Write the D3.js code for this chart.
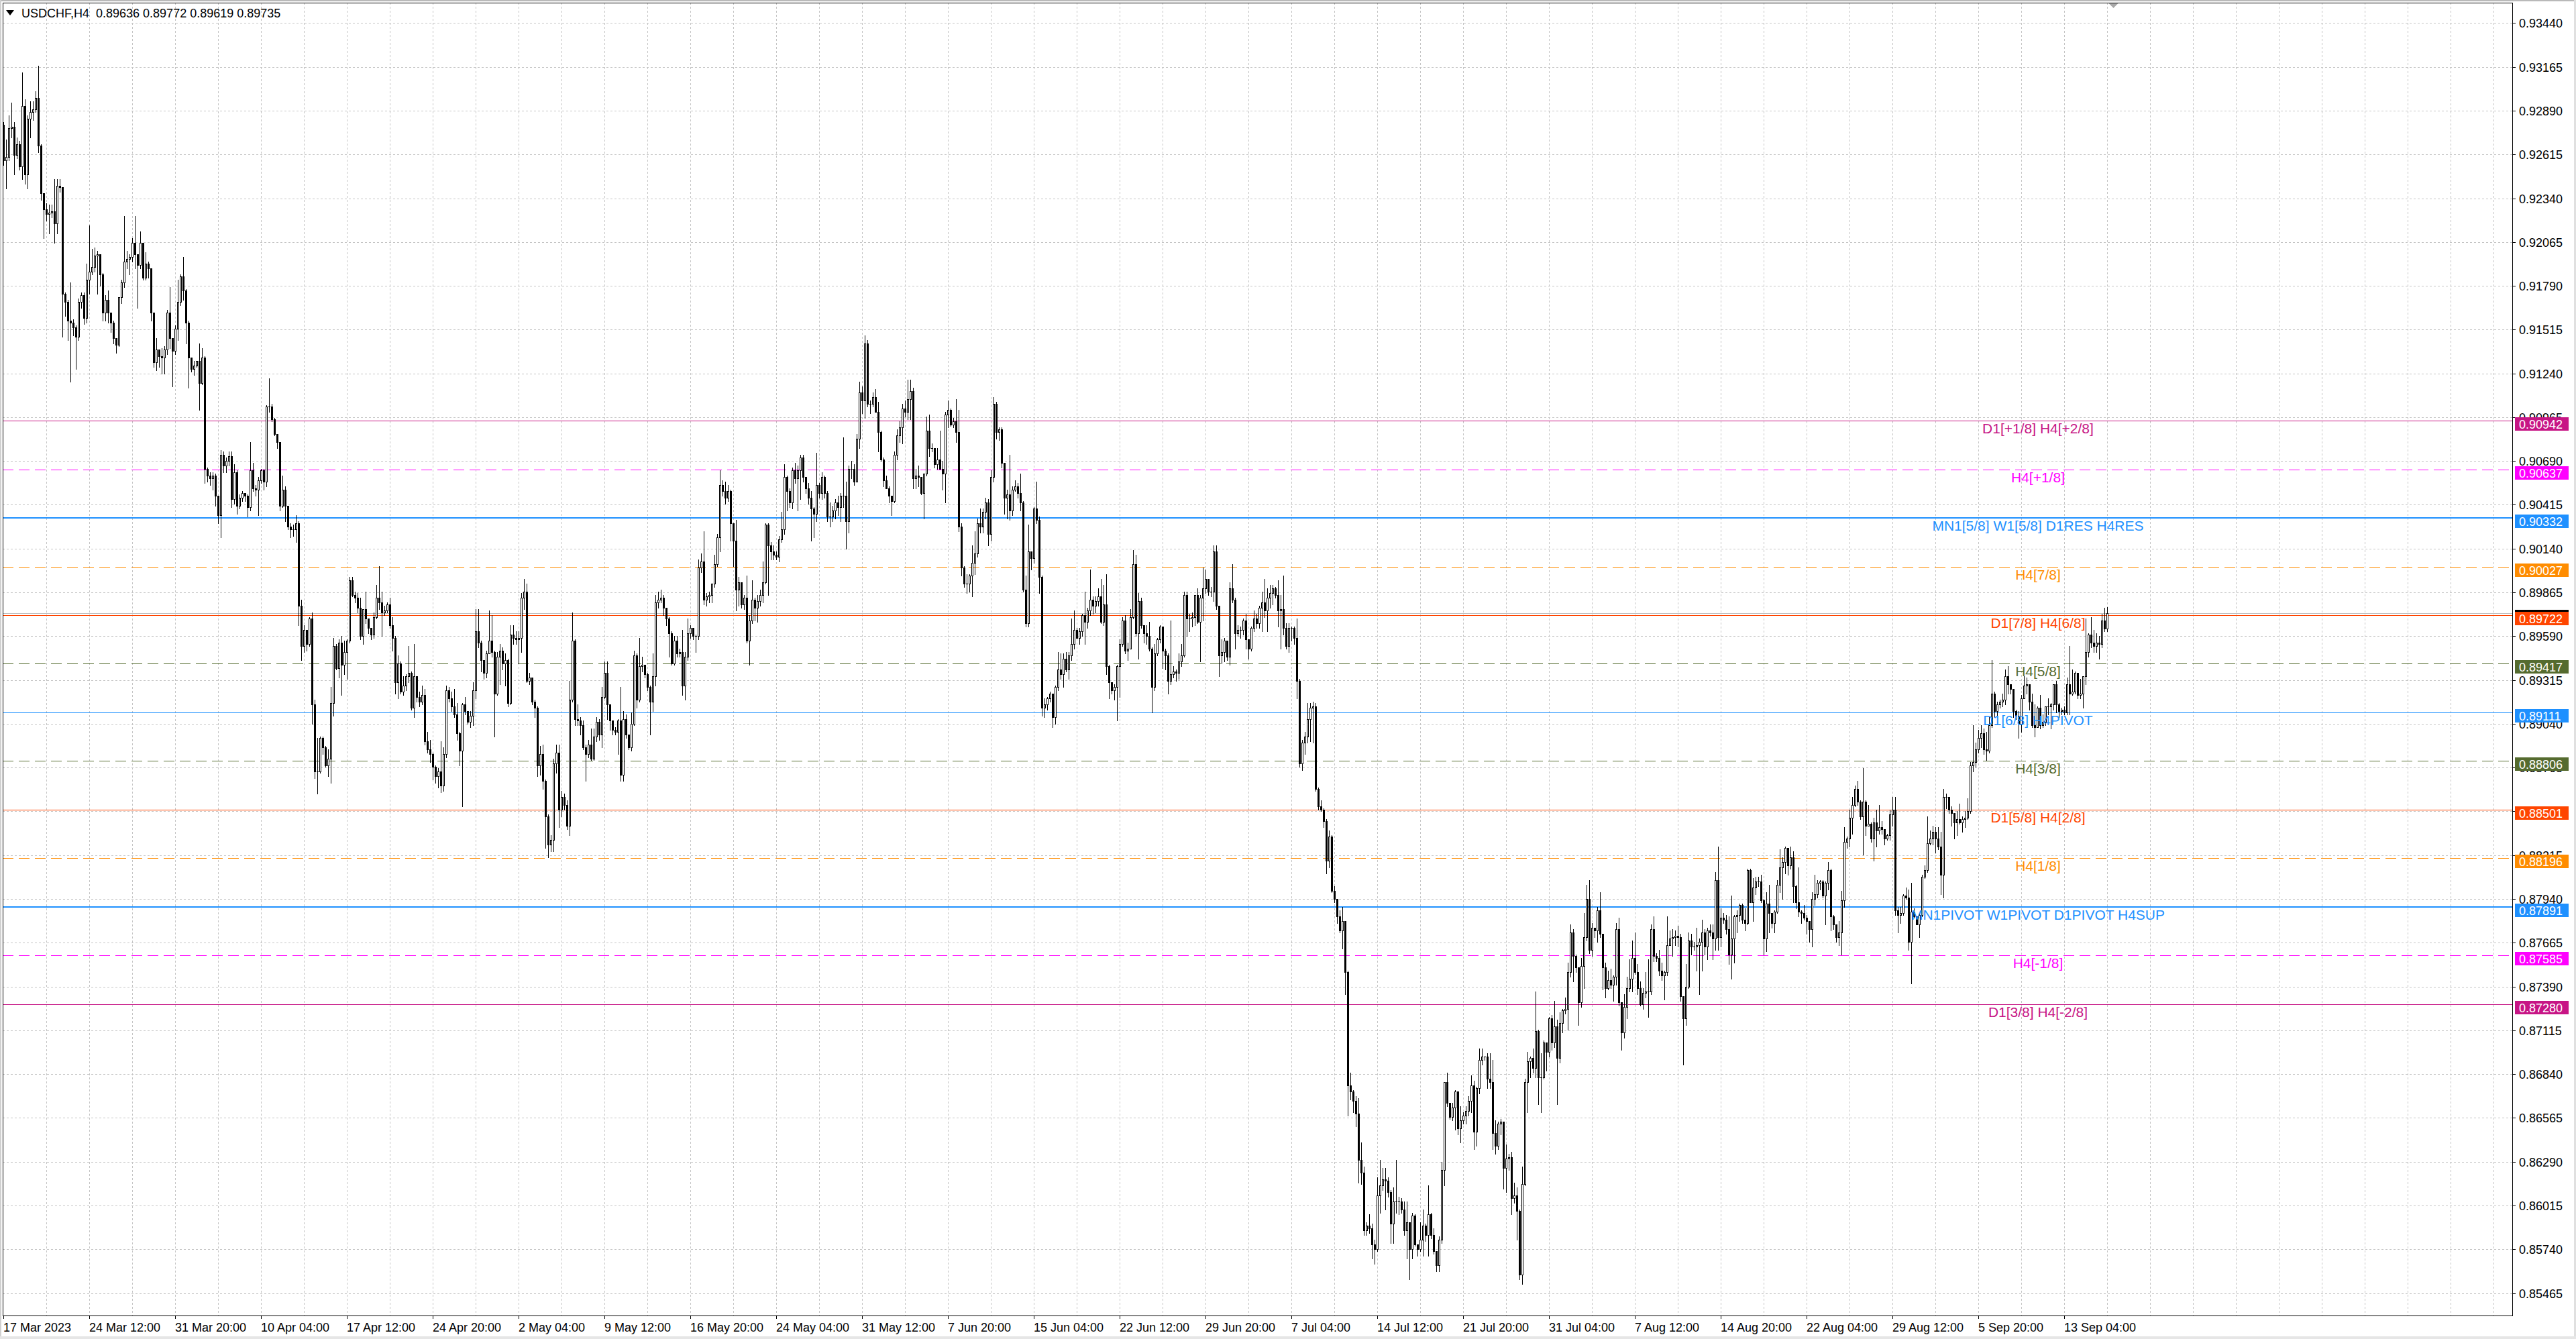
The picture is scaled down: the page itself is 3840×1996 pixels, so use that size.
<!DOCTYPE html>
<html><head><meta charset="utf-8">
<script src="https://cdn.jsdelivr.net/npm/d3@7/dist/d3.min.js"></script>
<style>html,body{margin:0;padding:0;background:#fff;overflow:hidden}</style>
</head><body>
<svg id="chart" width="3840" height="1996" xmlns="http://www.w3.org/2000/svg"></svg>
<script>
// ---------------- DATA ----------------
const symbol = "USDCHF";
const timeframe = "H4";
const firstBarTime = "2023-03-17T04:00:00Z";
// prices are stored in pips above 0.8500 (1 pip = 0.0001)
const pipBase = 0.85;
const pipSize = 0.0001;
const firstOpen = 780;

const closes = [
758,760,778,779,761,768,754,792,749,784,
788,790,797,767,737,727,724,725,726,718,
742,741,674,669,657,656,653,647,669,673,
659,683,688,691,698,699,686,662,670,662,
656,646,642,672,681,694,696,697,706,699,
692,706,684,693,690,662,631,639,635,634,
639,662,646,638,652,669,685,676,656,634,
627,629,632,618,634,564,560,558,560,547,
535,573,566,569,572,545,562,541,546,549,
547,540,563,552,551,557,563,556,603,603,
595,586,581,541,551,541,528,526,526,530,
478,453,463,454,470,416,374,374,395,389,
378,382,417,453,439,455,441,449,456,494,
485,483,477,459,476,470,464,460,471,483,
480,474,475,479,466,458,430,442,424,428,
434,436,414,434,421,418,422,393,388,385,
377,371,374,365,385,425,420,415,410,398,
387,416,412,405,409,425,462,455,444,436,
448,456,449,423,446,450,442,444,417,460,
458,457,458,483,487,431,433,418,414,378,
385,368,346,328,331,379,386,350,358,353,
340,419,456,407,406,403,389,385,391,382,
396,405,397,421,436,416,406,400,399,406,
372,407,397,389,404,447,419,440,441,435,
427,418,434,480,482,483,477,470,461,442,
456,448,449,428,446,461,464,459,459,502,
506,482,484,485,492,504,521,554,550,546,
550,530,519,488,493,479,483,456,469,482,
477,481,485,493,529,516,512,510,509,520,
526,559,550,543,563,558,563,571,559,552,
546,539,536,554,549,559,549,534,534,538,
543,540,547,547,531,564,564,556,583,612,
607,643,605,605,609,600,587,570,557,552,
547,544,573,585,590,602,600,608,613,558,
560,559,549,561,588,577,577,567,570,564,
561,598,601,592,594,587,528,502,492,492,
497,505,511,530,528,537,543,523,559,605,
587,589,568,546,548,538,551,553,549,543,
488,467,512,508,539,532,496,414,416,420,
423,408,427,438,435,445,438,447,454,463,
458,462,472,468,475,482,478,481,484,468,
479,440,430,425,427,440,454,469,450,451,
471,504,461,481,466,461,459,451,427,448,
457,465,450,447,431,435,437,436,443,447,
485,470,470,471,485,468,483,489,495,487,
487,512,478,447,449,456,446,489,482,461,
463,463,469,457,451,464,470,467,477,480,
475,483,486,489,485,475,476,464,453,464,
464,458,431,379,392,396,407,414,415,363,
352,350,343,318,333,299,294,283,274,280,
248,177,173,167,159,130,122,86,89,87,
77,74,108,114,118,117,110,90,104,104,
104,99,86,91,74,95,77,74,80,89,
83,96,83,73,64,80,124,179,166,157,
163,173,150,155,158,161,167,177,148,175,
193,195,195,181,179,147,139,153,154,125,
131,132,106,108,98,58,115,179,192,194,
188,211,182,182,204,198,219,204,214,194,
216,224,225,248,273,258,251,229,252,270,
294,262,276,274,287,272,251,238,243,240,
245,275,229,210,226,238,244,257,248,238,
228,235,236,236,275,258,257,249,246,248,
265,269,270,271,270,233,219,239,268,264,
264,265,267,273,264,274,273,269,306,270,
282,281,275,259,269,283,284,290,281,279,
312,292,301,305,305,293,269,291,285,279,
286,303,314,317,326,315,320,302,292,286,
285,282,280,275,294,297,304,305,296,304,
312,283,278,270,273,293,330,332,345,353,
363,355,346,355,340,341,332,342,337,339,
338,332,334,347,350,287,284,285,296,295,
267,286,283,278,284,308,312,329,332,336,
332,327,309,358,358,350,348,342,344,342,
344,345,349,378,380,388,395,398,388,387,
403,423,412,416,418,419,434,429,426,412,
409,404,420,428,429,418,403,402,414,403,
405,415,415,416,429,416,412,413,411,429,
423,424,436,422,423,434,449,460,455,453,
455,454,469,463.6,473.5];

const highs = [
782,771,786,794,782,772,770,813,796,786,
795,795,801,817,768,737,731,730,730,746,
746,746,718,675,670,681,658,654,671,675,
675,693,717,702,703,701,699,687,673,676,
662,657,646,672,683,723,701,699,709,723,
699,713,706,700,694,690,662,646,639,640,
641,664,678,646,654,683,686,697,677,657,
634,632,632,643,640,635,565,562,562,561,
547,576,575,571,575,575,567,563,548,550,
549,548,581,568,554,559,564,564,604,621,
605,596,586,581,560,553,541,530,529,535,
531,482,466,460,471,474,419,395,396,396,
390,388,427,458,454,457,459,456,457,496,
496,487,486,483,476,487,470,463,474,491,
503,487,478,480,483,471,459,447,443,434,
435,453,437,454,434,424,428,426,399,394,
386,378,376,393,389,428,427,424,426,417,
399,417,421,411,412,430,476,476,456,440,
450,475,472,450,449,454,452,448,445,466,
466,462,462,486,495,492,436,433,419,415,
390,391,369,347,334,382,391,391,362,360,
356,431,474,457,416,408,406,391,394,401,
401,408,407,427,443,443,416,405,402,407,
427,412,410,394,411,450,448,458,446,441,
436,428,448,485,487,488,485,477,471,462,
459,459,451,463,449,470,466,462,460,507,
511,525,486,487,492,510,523,563,557,556,
554,551,530,532,496,489,485,497,472,494,
483,485,488,506,530,530,518,516,512,522,
537,567,560,552,565,568,566,573,573,557,
555,550,540,574,555,562,560,550,543,541,
545,547,549,584,556,566,569,567,586,619,
616,648,645,607,612,614,606,588,571,560,
553,547,575,589,594,605,607,620,620,615,
564,566,559,561,597,598,580,573,577,588,
569,600,607,602,596,608,601,530,503,498,
498,516,525,533,539,539,546,545,563,609,
606,590,590,564,551,573,553,557,555,561,
544,497,529,510,540,556,534,497,420,421,
424,423,428,449,448,448,449,449,470,475,
464,464,473,487,477,501,484,484,489,495,
491,498,441,430,429,441,457,471,472,455,
476,513,510,486,483,465,466,468,452,454,
458,466,465,451,448,469,440,438,448,454,
487,487,473,474,485,489,485,502,501,495,
490,516,516,478,457,458,456,493,504,483,
466,465,470,473,457,465,475,473,478,487,
495,489,491,491,490,494,485,497,467,467,
465,465,470,432,394,399,417,417,418,417,
364,356,351,344,337,334,302,294,287,289,
280,249,185,174,170,169,141,126,91,96,
90,80,119,130,125,125,119,111,113,130,
107,106,104,104,91,97,96,77,91,99,
90,114,97,87,73,82,129,179,185,165,
166,174,169,164,160,164,170,183,180,176,
200,200,195,197,197,193,155,154,156,153,
140,134,135,116,113,99,126,181,198,195,
200,236,212,197,205,201,220,221,230,218,
223,225,232,254,278,275,259,248,257,285,
303,306,279,276,289,298,272,254,249,250,
246,279,282,229,234,245,256,268,273,253,
242,238,248,256,278,283,260,262,254,249,
283,274,275,274,277,272,229,253,273,272,
267,276,269,281,275,276,278,278,311,327,
288,285,284,283,296,284,287,291,291,288,
313,313,307,308,308,309,294,298,303,282,
287,306,325,320,327,322,327,324,303,314,
287,290,284,279,298,309,306,306,306,305,
317,313,284,278,280,299,339,333,350,358,
365,368,356,376,356,353,342,345,350,353,
343,338,335,350,358,358,289,289,297,301,
300,304,288,283,285,309,315,346,337,340,
339,339,336,363,360,356,352,348,349,354,
346,349,357,380,403,392,400,403,401,399,
408,444,424,418,419,423,438,440,429,425,
413,412,422,434,433,426,423,416,415,422,
410,415,420,417,429,431,417,414,415,433,
453,438,437,435,432,434,470,461,471,463,
461,459,473,477,477.2];

const lows = [
755,740,758,772,749,759,752,746,743,740,
772,783,788,763,733,709,720,712,722,706,
712,738,647,660,645,619,648,627,645,665,
655,656,674,686,688,674,679,657,657,656,
650,643,637,641,668,678,690,686,694,690,
665,690,683,683,684,657,628,626,628,624,
624,636,640,616,636,645,667,670,643,615,
625,623,628,601,617,555,556,554,551,541,
530,521,562,562,566,540,542,536,539,544,
544,534,538,550,547,535,555,551,553,600,
594,585,577,538,540,531,526,521,522,518,
466,444,449,450,453,404,370,360,373,385,
377,371,367,409,438,433,422,435,432,455,
484,480,474,457,454,467,461,457,458,470,
476,459,472,474,464,450,423,420,423,422,
425,430,413,408,418,415,416,391,386,380,
369,367,364,361,362,383,418,412,408,394,
378,352,410,404,402,403,420,452,437,432,
433,448,446,396,422,429,438,428,415,416,
454,454,442,449,476,430,429,416,408,371,
372,363,326,320,324,324,373,339,346,350,
338,334,418,403,403,397,388,368,383,381,
381,393,394,389,420,407,400,397,397,385,
368,368,395,388,387,403,414,418,437,433,
425,397,412,428,477,480,472,466,446,441,
441,446,446,422,419,444,458,457,449,457,
499,479,478,480,480,490,503,512,547,542,
544,519,503,475,478,477,476,455,441,467,
469,468,478,480,492,485,507,507,507,506,
518,523,538,540,539,555,538,545,556,549,
542,519,521,531,546,545,546,531,528,531,
533,535,531,540,514,524,558,554,556,577,
599,596,603,599,603,600,575,569,553,552,
543,535,543,570,581,580,597,595,595,552,
552,553,548,533,560,572,575,565,564,564,
551,543,590,591,590,581,525,497,490,486,
487,484,498,509,524,524,533,516,519,556,
583,582,565,536,533,532,535,550,546,538,
487,465,465,501,505,530,486,409,408,413,
418,402,404,425,432,427,437,432,444,451,
458,454,459,454,464,472,473,474,478,467,
466,435,420,423,419,406,421,453,448,444,
451,470,459,445,464,455,454,450,411,425,
447,455,439,438,423,429,433,431,432,440,
446,459,462,465,466,467,443,469,486,485,
484,481,476,434,442,443,444,441,480,451,
459,458,460,451,445,450,462,464,464,462,
471,462,477,479,483,465,451,460,451,449,
456,454,420,377,375,385,392,393,392,362,
350,349,339,310,314,298,292,279,273,263,
234,158,168,160,151,116,115,83,83,84,
68,65,73,97,111,99,107,78,78,97,
96,97,83,68,55,68,76,70,73,70,
79,70,81,71,60,60,78,114,164,156,
155,149,146,141,153,153,158,160,137,139,
172,190,193,175,175,137,134,137,146,112,
110,124,96,103,80,55,52,114,160,182,
185,182,165,160,181,186,195,199,201,165,
191,210,222,212,245,242,248,215,226,238,
268,260,258,270,267,270,237,232,237,238,
230,240,227,199,207,219,236,236,247,234,
227,225,232,220,234,255,255,246,243,231,
246,265,258,265,264,230,190,215,238,259,
262,249,234,249,259,256,271,256,262,262,
264,279,272,253,244,254,273,280,279,274,
278,292,280,297,302,292,259,261,273,276,
273,285,298,294,310,309,313,292,288,283,
279,281,272,267,264,290,295,300,295,278,
300,274,275,267,265,259,289,326,327,335,
352,353,344,322,334,340,330,318,327,335,
335,328,331,331,340,284,273,279,284,294,
262,241,282,278,270,283,307,311,328,328,
323,325,297,295,351,348,340,332,334,341,
336,339,344,348,374,377,386,389,385,381,
386,402,408,408,414,415,416,423,423,408,
407,395,399,420,423,413,402,396,402,401,
402,403,410,401,413,411,408,410,410,410,
410,422,423,420,420,414,429,446,452,449,
449,445,452,462,461.9];

const priceTickLabels = ["0.93440","0.93165","0.92890","0.92615","0.92340","0.92065","0.91790","0.91515","0.91240","0.90965",
  "0.90690","0.90415","0.90140","0.89865","0.89590","0.89315","0.89040","0.88765","0.88490","0.88215",
  "0.87940","0.87665","0.87390","0.87115","0.86840","0.86565","0.86290","0.86015","0.85740","0.85465"];

const timeTickLabels = ["17 Mar 2023","24 Mar 12:00","31 Mar 20:00","10 Apr 04:00","17 Apr 12:00","24 Apr 20:00",
  "2 May 04:00","9 May 12:00","16 May 20:00","24 May 04:00","31 May 12:00","7 Jun 20:00","15 Jun 04:00",
  "22 Jun 12:00","29 Jun 20:00","7 Jul 04:00","14 Jul 12:00","21 Jul 20:00","31 Jul 04:00","7 Aug 12:00",
  "14 Aug 20:00","22 Aug 04:00","29 Aug 12:00","5 Sep 20:00","13 Sep 04:00"];

const levelPrices = [0.90942,0.90637,0.90332,0.90027,0.89722,0.89417,0.89111,0.88806,0.88501,0.88196,0.87891,0.87585,0.87280];
const levelNames = ["D1[+1/8] H4[+2/8]","H4[+1/8]","MN1[5/8] W1[5/8] D1RES H4RES","H4[7/8]","D1[7/8] H4[6/8]","H4[5/8]",
  "D1[6/8] H4PIVOT","H4[3/8]","D1[5/8] H4[2/8]","H4[1/8]","MN1PIVOT W1PIVOT D1PIVOT H4SUP","H4[-1/8]","D1[3/8] H4[-2/8]"];
const bidPrice = 0.89735;

// ---------------- STYLE ----------------
const levelStyle = [
  {color:"#C71585", dash:null, w:1},
  {color:"#FF00FF", dash:"16,8", w:1},
  {color:"#1E90FF", dash:null, w:2},
  {color:"#FF8C00", dash:"16,8", w:1},
  {color:"#FF4500", dash:null, w:1},
  {color:"#556B2F", dash:"16,8", w:1},
  {color:"#1E90FF", dash:null, w:1},
  {color:"#556B2F", dash:"16,8", w:1},
  {color:"#FF4500", dash:null, w:1},
  {color:"#FF8C00", dash:"16,8", w:1},
  {color:"#1E90FF", dash:null, w:2},
  {color:"#FF00FF", dash:"16,8", w:1},
  {color:"#C71585", dash:null, w:1}
];
const FONT = "'Liberation Sans', Arial, sans-serif";
const W = 3840, H = 1996;
const plot = {left:4, top:4, right:3746, bottom:1962};
const barStep = 4, firstBarX = 5.5;

// ---------------- BUILD ----------------
const N = closes.length;
const toPrice = v => pipBase + v * pipSize;
const bars = closes.map((c, i) => {
  const o = i === 0 ? firstOpen : closes[i - 1];
  const h = Math.max(highs[i] ?? Math.max(o, c), o, c);
  const l = Math.min(lows[i] ?? Math.min(o, c), o, c);
  return {i, o: toPrice(o), h: toPrice(h), l: toPrice(l), c: toPrice(c)};
});

// bar times (4h bars, skipping weekends)
const months = ["Jan","Feb","Mar","Apr","May","Jun","Jul","Aug","Sep","Oct","Nov","Dec"];
const times = [];
let t = new Date(firstBarTime).getTime();
for (let i = 0; i < N; i++) {
  let d = new Date(t);
  while (d.getUTCDay() === 0 || d.getUTCDay() === 6) { t += 4 * 3600e3; d = new Date(t); }
  times.push(d);
  t += 4 * 3600e3;
}
const fmt = d => d.getUTCDate() + " " + months[d.getUTCMonth()] + " " + String(d.getUTCHours()).padStart(2, "0") + ":00";
const timeIndex = timeTickLabels.map((lab, k) => {
  if (k === 0) return 0;
  const idx = times.findIndex(d => fmt(d) === lab);
  return idx >= 0 ? idx : k * 32;
});

const x = d3.scaleLinear().domain([0, N - 1]).range([firstBarX, firstBarX + barStep * (N - 1)]);
const y = d3.scaleLinear().domain([0.85465, 0.93440]).range([1927.5, 34.4]);
const py = p => Math.round(y(p));

const svg = d3.select("#chart");
svg.append("rect").attr("width", W).attr("height", H).attr("fill", "#fff");

// window borders
svg.append("rect").attr("x", 0).attr("y", 0).attr("width", W).attr("height", 2).attr("fill", "#b9b9b9");
svg.append("rect").attr("x", 0).attr("y", 0).attr("width", 2).attr("height", H).attr("fill", "#d0d0d0");
svg.append("rect").attr("x", W - 3).attr("y", 0).attr("width", 3).attr("height", H).attr("fill", "#e0e0e0");
svg.append("rect").attr("x", 0).attr("y", H - 4).attr("width", W).attr("height", 4).attr("fill", "#e6e6e6");

const clip = svg.append("defs").append("clipPath").attr("id", "plotclip");
clip.append("rect").attr("x", plot.left + 1).attr("y", plot.top + 1)
  .attr("width", plot.right - plot.left - 1).attr("height", plot.bottom - plot.top - 1);

const gPlot = svg.append("g").attr("clip-path", "url(#plotclip)").attr("shape-rendering", "crispEdges");

// grid
const tickPrices = priceTickLabels.map(Number);
gPlot.append("g").selectAll("line").data(tickPrices).join("line")
  .attr("x1", plot.left).attr("x2", plot.right)
  .attr("y1", d => py(d) + 0.5).attr("y2", d => py(d) + 0.5)
  .attr("stroke", "#c4c4c4").attr("stroke-dasharray", "3,3");
const vGrid = d3.range(16, Math.ceil((plot.right - firstBarX) / barStep), 16).filter(i => x(i) < plot.right);
gPlot.append("g").selectAll("line").data(vGrid).join("line")
  .attr("x1", d => Math.floor(x(d)) + 0.5).attr("x2", d => Math.floor(x(d)) + 0.5)
  .attr("y1", plot.top).attr("y2", plot.bottom)
  .attr("stroke", "#c4c4c4").attr("stroke-dasharray", "3,3");

// level lines
const levels = levelPrices.map((p, k) => ({p, name: levelNames[k], ...levelStyle[k]}));
gPlot.append("g").selectAll("line").data(levels).join("line")
  .attr("x1", plot.left).attr("x2", plot.right)
  .attr("y1", d => py(d.p) + (d.w === 2 ? 0 : 0.5)).attr("y2", d => py(d.p) + (d.w === 2 ? 0 : 0.5))
  .attr("stroke", d => d.color).attr("stroke-width", d => d.w)
  .attr("stroke-dasharray", d => d.dash);
// bid line
gPlot.append("line").attr("x1", plot.left).attr("x2", plot.right)
  .attr("y1", py(bidPrice) + 0.5).attr("y2", py(bidPrice) + 0.5).attr("stroke", "#c0c0c0");

// level labels
svg.append("g").selectAll("text").data(levels).join("text")
  .attr("x", 3038).attr("y", d => py(d.p) + 19)
  .attr("text-anchor", "middle").attr("font-family", FONT).attr("font-size", 21)
  .attr("fill", d => d.color).text(d => d.name);

// candles
const gC = gPlot.append("g");
gC.selectAll("line.wick").data(bars).join("line").attr("class", "wick")
  .attr("x1", d => Math.floor(x(d.i)) + 0.5).attr("x2", d => Math.floor(x(d.i)) + 0.5)
  .attr("y1", d => py(d.h)).attr("y2", d => py(d.l) + 1)
  .attr("stroke", "#000");
gC.selectAll("rect.body").data(bars).join("rect").attr("class", "body")
  .each(function (d) {
    const px = Math.floor(x(d.i));
    const yo = py(d.o), yc = py(d.c);
    const s = d3.select(this);
    if (d.c >= d.o) {
      const top = Math.min(yo, yc), hgt = Math.abs(yo - yc);
      if (hgt < 2) {
        s.attr("x", px - 1).attr("y", top).attr("width", 3).attr("height", Math.max(1, hgt + 1)).attr("fill", "#000");
      } else {
        s.attr("x", px - 0.5).attr("y", top + 0.5).attr("width", 2).attr("height", hgt)
          .attr("fill", "#fff").attr("stroke", "#000");
      }
    } else {
      s.attr("x", px - 1).attr("y", yo).attr("width", 3).attr("height", Math.max(1, yc - yo + 1)).attr("fill", "#000");
    }
  });

// frame
svg.append("rect").attr("x", plot.left + 0.5).attr("y", plot.top + 0.5)
  .attr("width", plot.right - plot.left - 1).attr("height", plot.bottom - plot.top - 1)
  .attr("fill", "none").attr("stroke", "#000").attr("shape-rendering", "crispEdges");

// shift marker
svg.append("path")
  .attr("d", d3.line()([[x(N - 1) + 2, plot.top + 1], [x(N - 1) + 16, plot.top + 1], [x(N - 1) + 9, plot.top + 8]]) + "Z")
  .attr("fill", "#a8a8a8");

// price axis
const gY = svg.append("g").attr("font-family", FONT).attr("font-size", 18);
gY.selectAll("line").data(tickPrices).join("line")
  .attr("x1", plot.right).attr("x2", plot.right + 4)
  .attr("y1", d => py(d) + 0.5).attr("y2", d => py(d) + 0.5).attr("stroke", "#000").attr("shape-rendering", "crispEdges");
gY.selectAll("text").data(priceTickLabels).join("text")
  .attr("x", 3755).attr("y", d => py(+d) + 6.5).attr("fill", "#000").text(d => d);

// price boxes: bid first (underneath), then level boxes, each box = rect + its text
const boxItems = [{p: bidPrice, color: "#000"}].concat(levels.map(l => ({p: l.p, color: l.color})));
const boxG = svg.append("g").attr("font-family", FONT).attr("font-size", 18)
  .selectAll("g").data(boxItems).join("g");
boxG.append("rect")
  .attr("x", 3749).attr("y", d => py(d.p) - 5).attr("width", 80).attr("height", 20)
  .attr("fill", d => d.color).attr("shape-rendering", "crispEdges");
boxG.append("text")
  .attr("x", 3755).attr("y", d => py(d.p) + 11.5).attr("fill", "#fff").text(d => d.p.toFixed(5));

// time axis
const gX = svg.append("g").attr("font-family", FONT).attr("font-size", 18);
gX.selectAll("line").data(timeIndex).join("line")
  .attr("x1", d => Math.floor(x(d)) + 0.5).attr("x2", d => Math.floor(x(d)) + 0.5)
  .attr("y1", plot.bottom).attr("y2", plot.bottom + 4).attr("stroke", "#000").attr("shape-rendering", "crispEdges");
gX.selectAll("text").data(timeTickLabels).join("text")
  .attr("x", (d, k) => Math.floor(x(timeIndex[k])))
  .attr("y", 1985).attr("fill", "#000").text(d => d);

// title
const last = bars[N - 1];
svg.append("path").attr("d", "M9,15 L21,15 L15,23 Z").attr("fill", "#000");
svg.append("text").attr("x", 32).attr("y", 26).attr("font-family", FONT).attr("font-size", 18).attr("fill", "#000")
  .attr("xml:space", "preserve")
  .text(`${symbol},${timeframe}  ${last.o.toFixed(5)} ${last.h.toFixed(5)} ${last.l.toFixed(5)} ${last.c.toFixed(5)}`);
</script>
</body></html>
